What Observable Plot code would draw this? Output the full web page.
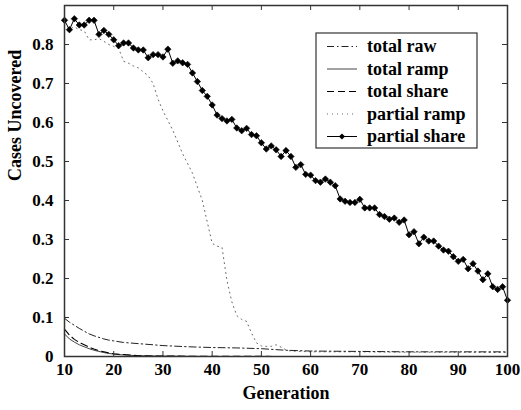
<!DOCTYPE html>
<html>
<head>
<meta charset="utf-8">
<script src="https://cdn.jsdelivr.net/npm/d3@7"></script>
<script src="https://cdn.jsdelivr.net/npm/@observablehq/plot@0.6"></script>
<style>
  html, body { margin: 0; padding: 0; background: #fff; }
  #chart svg { display: block; }
</style>
</head>
<body>
<div id="chart"></div>
<script>
// Fraction of test cases left uncovered per generation, five strategies.

// partial share: one value per generation 10..100
const shareGen = d3.range(10, 101);
const partialShare = [
  0.862, 0.838, 0.866, 0.850, 0.850, 0.862, 0.862, 0.826, 0.836, 0.826,
  0.812, 0.797, 0.804, 0.804, 0.791, 0.786, 0.786, 0.766, 0.774, 0.774,
  0.768, 0.788, 0.752, 0.758, 0.753, 0.749, 0.727, 0.705, 0.682, 0.667,
  0.645, 0.619, 0.610, 0.604, 0.608, 0.586, 0.579, 0.585, 0.569, 0.566,
  0.548, 0.532, 0.540, 0.530, 0.513, 0.528, 0.513, 0.485, 0.492, 0.467,
  0.465, 0.451, 0.447, 0.455, 0.447, 0.438, 0.404, 0.398, 0.395, 0.395,
  0.403, 0.381, 0.381, 0.381, 0.364, 0.359, 0.352, 0.355, 0.344, 0.350,
  0.312, 0.320, 0.289, 0.306, 0.296, 0.296, 0.283, 0.273, 0.270, 0.256,
  0.244, 0.249, 0.225, 0.238, 0.219, 0.197, 0.212, 0.179, 0.172, 0.179,
  0.144
];

// partial ramp
const rampGen = [10, 11, 12, 13, 14, 15, 16, 17, 18, 19, 20, 21, 22, 23, 24, 25, 26, 27, 28, 29,
  30, 31, 32, 33, 34, 35, 36, 37, 38, 39, 40, 41, 42, 43, 44, 45, 46, 47, 48, 49,
  50, 51, 52, 53, 54, 55, 56, 60, 70, 80, 90, 100];
const partialRamp = [0.855, 0.840, 0.845, 0.838, 0.835, 0.812, 0.812, 0.815, 0.808, 0.800,
  0.795, 0.790, 0.757, 0.752, 0.745, 0.740, 0.730, 0.720, 0.700, 0.660,
  0.630, 0.605, 0.580, 0.550, 0.520, 0.495, 0.470, 0.435, 0.400, 0.345,
  0.290, 0.283, 0.280, 0.195, 0.140, 0.105, 0.095, 0.090, 0.060, 0.035,
  0.027, 0.026, 0.026, 0.030, 0.024, 0.017, 0.014, 0.012, 0.012, 0.011, 0.011, 0.010];

// total raw
const rawGen = [10, 11, 12, 13, 14, 15, 16, 17, 18, 19, 20, 22, 25, 28, 30, 35, 40, 45, 50, 55, 60, 70, 80, 90, 100];
const totalRaw = [0.098, 0.088, 0.080, 0.072, 0.065, 0.058, 0.053, 0.049, 0.045, 0.042,
  0.040, 0.036, 0.033, 0.030, 0.028, 0.025, 0.023, 0.022, 0.020, 0.016, 0.014, 0.013, 0.012, 0.012, 0.012];

// total ramp and total share
const totalGen = [10, 11, 12, 13, 14, 15, 16, 17, 18, 19, 20, 22, 25, 30, 40, 60, 80, 100];
const totalRamp = [0.058, 0.045, 0.037, 0.030, 0.025, 0.020, 0.016, 0.013, 0.010, 0.008,
  0.006, 0.004, 0.002, 0.001, 0, 0, 0, 0];
const totalShare = [0.070, 0.055, 0.044, 0.036, 0.030, 0.024, 0.019, 0.015, 0.012, 0.009,
  0.007, 0.005, 0.002, 0.001, 0.0005, 0, 0, 0];

// axes
const xTicks = [10, 20, 30, 40, 50, 60, 70, 80, 90, 100];
const xTickLabels = ["10", "20", "30", "40", "50", "60", "70", "80", "90", "100"];
const yTicks = [0, 0.1, 0.2, 0.3, 0.4, 0.5, 0.6, 0.7, 0.8];
const yTickLabels = ["0", "0.1", "0.2", "0.3", "0.4", "0.5", "0.6", "0.7", "0.8"];
const xTitle = "Generation";
const yTitle = "Cases Uncovered";

// legend entries
const seriesNames = ["total raw", "total ramp", "total share", "partial ramp", "partial share"];

const zip = (xs, ys) => xs.map((g, i) => ({g, v: ys[i]}));
const shareData = zip(shareGen, partialShare);
const rampData = zip(rampGen, partialRamp);
const rawData = zip(rawGen, totalRaw);
const tRampData = zip(totalGen, totalRamp);
const tShareData = zip(totalGen, totalShare);

const W = 521, H = 410;
const mL = 64, mR = 14, mT = 5, mB = 54;
const frameH = H - mT - mB, frameW = W - mL - mR;
const tickLen = 5;
const serif = "'Liberation Serif', 'Times New Roman', serif";

const lineStyles = [
  {stroke: "#222", strokeWidth: 1, strokeDasharray: "7,3,1.5,3"},
  {stroke: "#444", strokeWidth: 1},
  {stroke: "#000", strokeWidth: 1.1, strokeDasharray: "7,4"},
  {stroke: "#666", strokeWidth: 1, strokeDasharray: "1,4"},
  {stroke: "#000", strokeWidth: 1}
];

const plot = Plot.plot({
  width: W,
  height: H,
  marginLeft: mL,
  marginRight: mR,
  marginTop: mT,
  marginBottom: mB,
  style: {fontFamily: serif, fontSize: "17px", fontWeight: "bold", color: "#000", background: "#fff"},
  x: {domain: [10, 100]},
  y: {domain: [0, 0.9]},
  marks: [
    // series
    Plot.line(rampData, {x: "g", y: "v", ...lineStyles[3]}),
    Plot.line(rawData, {x: "g", y: "v", ...lineStyles[0]}),
    Plot.line(tRampData, {x: "g", y: "v", ...lineStyles[1]}),
    Plot.line(tShareData, {x: "g", y: "v", ...lineStyles[2]}),
    Plot.line(shareData, {x: "g", y: "v", ...lineStyles[4]}),
    Plot.dot(shareData, {x: "g", y: "v", symbol: "diamond2", r: 2.9, fill: "#000", stroke: "#000", strokeWidth: 0.6}),
    // inward ticks on all four sides
    Plot.tickX(xTicks, {x: d => d, insetTop: frameH - tickLen, stroke: "#333", strokeWidth: 1}),
    Plot.tickX(xTicks, {x: d => d, insetBottom: frameH - tickLen, stroke: "#333", strokeWidth: 1}),
    Plot.tickY(yTicks, {y: d => d, insetRight: frameW - tickLen, stroke: "#333", strokeWidth: 1}),
    Plot.tickY(yTicks, {y: d => d, insetLeft: frameW - tickLen, stroke: "#333", strokeWidth: 1}),
    Plot.frame({stroke: "#333", strokeWidth: 1.5}),
    // tick labels
    Plot.axisX({ticks: xTicks, tickSize: 0, tickPadding: 6, tickFormat: d => xTickLabels[xTicks.indexOf(d)], label: null}),
    Plot.axisY({ticks: yTicks, tickSize: 0, tickPadding: 11, tickFormat: d => yTickLabels[yTicks.indexOf(d)], label: null}),
    // axis titles
    Plot.text([xTitle], {frameAnchor: "bottom", dy: 42, text: d => d, fontSize: 18, fontWeight: "bold"}),
    Plot.text([yTitle], {frameAnchor: "left", dx: -49, rotate: -90, text: d => d, fontSize: 18, fontWeight: "bold"})
  ]
});

// Legend box in the upper right of the frame, placed from the plot's own scales
const svg = d3.select(plot);
const xr = plot.scale("x").range;   // [left, right]
const yr = plot.scale("y").range;   // [bottom, top]
const boxRight = xr[1] - 30, boxTop = yr[1] + 28;
const boxW = 161, boxH = 115;
const boxLeft = boxRight - boxW;
const g = svg.append("g")
  .attr("font-family", serif).attr("font-size", 18).attr("font-weight", "bold")
  .attr("text-anchor", "start");
g.append("rect")
  .attr("x", boxLeft).attr("y", boxTop).attr("width", boxW).attr("height", boxH)
  .attr("fill", "#fff").attr("stroke", "#333").attr("stroke-width", 1.2);
seriesNames.forEach((name, i) => {
  const cy = boxTop + 13.5 + i * 22.5;
  const s = lineStyles[i];
  g.append("line")
    .attr("x1", boxLeft + 11).attr("x2", boxLeft + 41).attr("y1", cy).attr("y2", cy)
    .attr("stroke", s.stroke).attr("stroke-width", s.strokeWidth)
    .attr("stroke-dasharray", s.strokeDasharray || null);
  if (i === 4) {
    g.append("path")
      .attr("d", d3.symbol(d3.symbolDiamond2, 24)())
      .attr("transform", `translate(${boxLeft + 26},${cy})`)
      .attr("fill", "#000");
  }
  g.append("text")
    .attr("x", boxLeft + 51).attr("y", cy).attr("dy", "0.32em")
    .attr("text-anchor", "start")
    .text(name);
});

document.getElementById("chart").appendChild(plot);
</script>
</body>
</html>
